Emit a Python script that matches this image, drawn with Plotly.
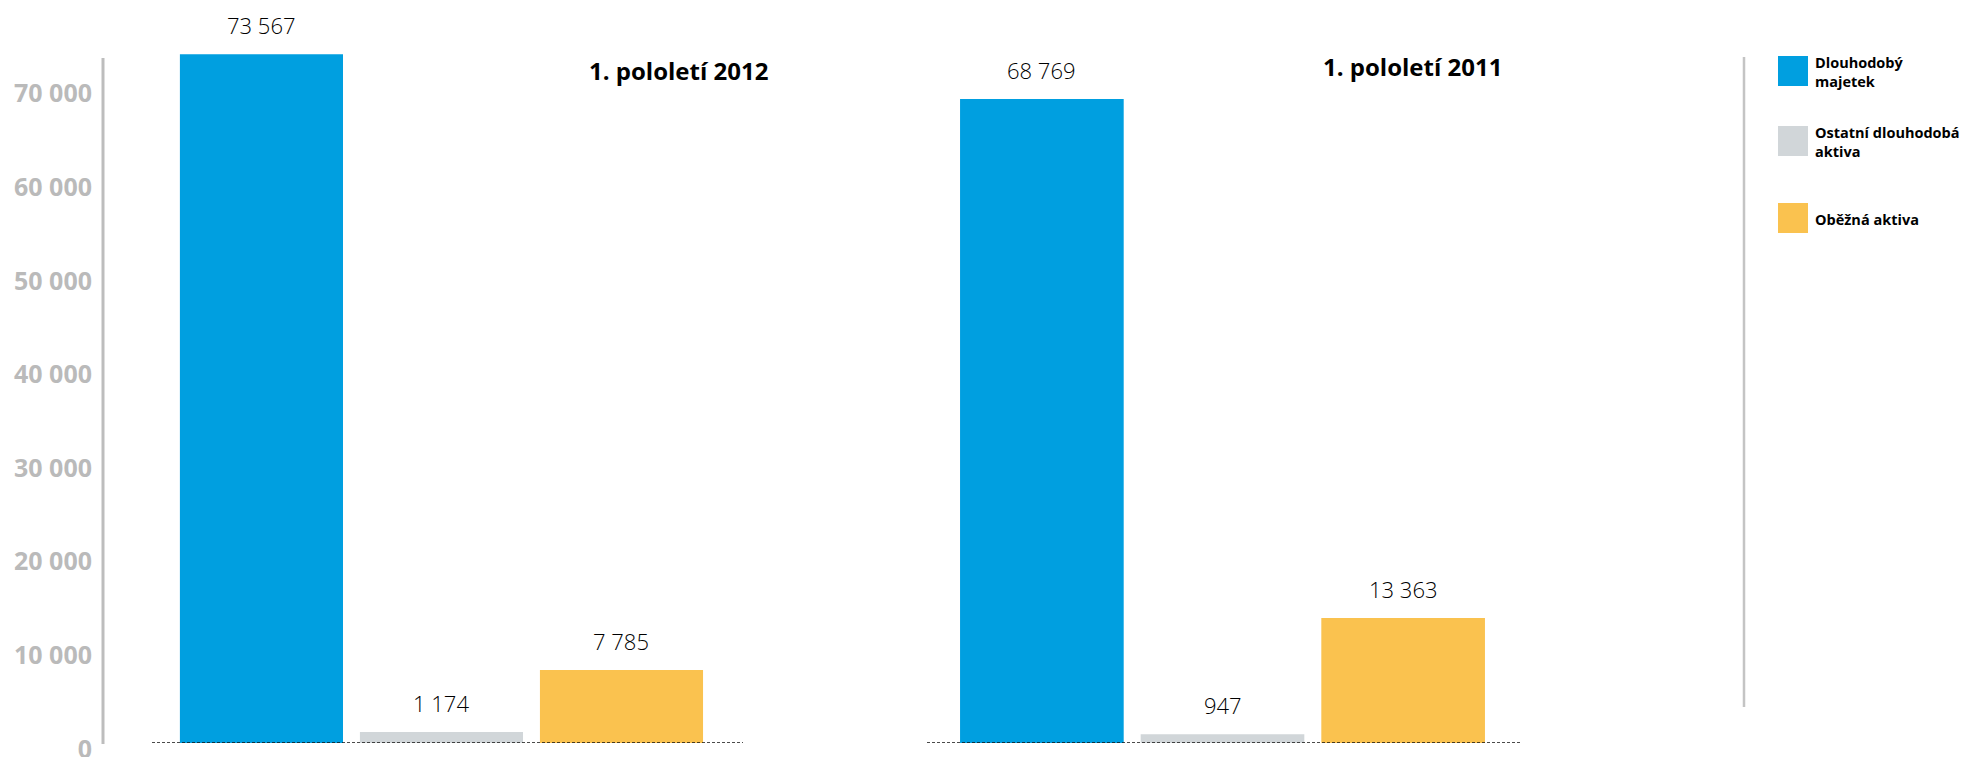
import plotly.graph_objects as go

# ---- data ----
categories = ["Dlouhodobý majetek", "Ostatní dlouhodobá aktiva", "Oběžná aktiva"]
legend_labels = ["Dlouhodobý<br>majetek", "Ostatní dlouhodobá<br>aktiva", "Oběžná aktiva"]
period_titles = ["1. pololetí 2012", "1. pololetí 2011"]
values_2012 = [73567, 1174, 7785]
values_2011 = [68769, 947, 13363]
y_ticks = [0, 10000, 20000, 30000, 40000, 50000, 60000, 70000]
colors = ["#009FE0", "#D1D6D9", "#FAC24F"]

W, H = 1982, 757
def px(x):
    return x / W
def py(y):
    return 1 - y / H

fig = go.Figure()
for vals, xa in [(values_2012, "x"), (values_2011, "x2")]:
    fig.add_trace(go.Bar(
        x=categories, y=vals, xaxis=xa, yaxis="y",
        marker=dict(color=colors, line=dict(width=0)),
        showlegend=False, hoverinfo="skip",
    ))

annotations = []
# value labels
for vals, xa in [(values_2012, "x"), (values_2011, "x2")]:
    for c, v in zip(categories, vals):
        annotations.append(dict(
            x=c, y=v, xref=xa, yref="y", text=f"{v:,}".replace(",", " "),
            showarrow=False, yanchor="middle", yshift=29,
            font=dict(family="Open Sans", size=22, color="#000000", weight=300),
        ))
# period titles
for t, (cx, cy) in zip(period_titles, [(678, 70), (1412, 67)]):
    annotations.append(dict(
        x=px(cx), y=py(cy), xref="paper", yref="paper", text=f"<b>{t}</b>",
        showarrow=False, xanchor="center", yanchor="middle",
        font=dict(family="Open Sans", size=24, color="#000000"),
    ))

shapes = []
# zero baselines (dashed)
for xa in ["x", "x2"]:
    shapes.append(dict(type="line", xref=f"{xa} domain", yref="y",
                       x0=0, x1=1, y0=0, y1=0,
                       line=dict(color="#111111", width=1.5, dash="3px,2px")))
# y axis line
shapes.append(dict(type="line", xref="paper", yref="paper",
                   x0=px(103), x1=px(103), y0=py(744), y1=py(58),
                   line=dict(color="#BDBDBD", width=3)))
# legend separator
shapes.append(dict(type="line", xref="paper", yref="paper",
                   x0=px(1744), x1=px(1744), y0=py(707), y1=py(57),
                   line=dict(color="#C4C4C4", width=2.5)))
# legend squares + labels
for lab, col, top in zip(legend_labels, colors, [56, 126, 203]):
    shapes.append(dict(type="rect", xref="paper", yref="paper",
                       x0=px(1778), x1=px(1808), y0=py(top + 30), y1=py(top),
                       fillcolor=col, line=dict(width=0)))
    annotations.append(dict(
        x=px(1813), y=py(top + 16), xref="paper", yref="paper",
        text=f"<b>{lab}</b>", showarrow=False, xanchor="left", yanchor="middle",
        align="left", font=dict(family="Open Sans", size=14.5, color="#000000"),
    ))

fig.update_layout(
    width=W, height=H,
    margin=dict(l=0, r=0, t=0, b=0, pad=0, autoexpand=False),
    paper_bgcolor="white", plot_bgcolor="white",
    separators=", ",
    bargap=0.094,
    showlegend=False,
    hovermode=False,
    xaxis=dict(domain=[px(152), px(743)], range=[-0.608, 2.675], anchor="y",
               visible=False, automargin=False),
    xaxis2=dict(domain=[px(927), px(1520)], range=[-0.636, 2.647], anchor="y",
                visible=False, automargin=False),
    yaxis=dict(domain=[py(743), py(52)], range=[0, 73800], anchor="free",
               position=px(103), showgrid=False, zeroline=False, showline=False,
               automargin=False,
               tickvals=y_ticks, tickformat=",d", ticks="",
               ticklabelstandoff=11, ticklabelshift=6, ticklabeloverflow="allow",
               tickfont=dict(family="Open Sans", size=25, color="#BABABA", weight="bold")),
    annotations=annotations,
    shapes=shapes,
)

fig.write_html(
    "out.html",
    config={"displayModeBar": False, "staticPlot": True},
    post_script=(
        "document.documentElement.style.overflow='hidden';"
        "document.body.style.margin='0';document.body.style.overflow='hidden';"
    ),
)
